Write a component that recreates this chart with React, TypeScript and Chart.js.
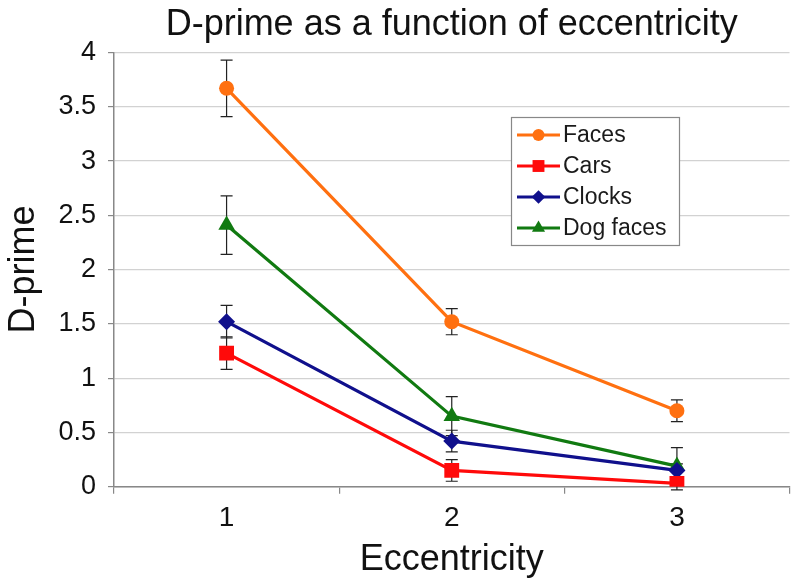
import React, { useEffect, useRef } from "react";
import { Chart, registerables } from "chart.js";

Chart.register(...registerables);

const categories = ["1", "2", "3"];
const seriesNames = ["Faces", "Cars", "Clocks", "Dog faces"];
const faces = [3.67, 1.52, 0.7];
const facesErr = [0.26, 0.12, 0.1];
const cars = [1.23, 0.15, 0.03];
const carsErr = [0.15, 0.1, 0.06];
const clocks = [1.52, 0.42, 0.15];
const clocksErr = [0.15, 0.1, 0.06];
const dogFaces = [2.41, 0.65, 0.19];
const dogFacesErr = [0.27, 0.18, 0.17];

const colors = ["#FF7010", "#FF0A0A", "#10108C", "#117A11"];
const styles = ["circle", "rect", "rectRot", "triangle"];
const radii = [7.5, 10.5, 8.5, 9.5];

const FONT = "'Liberation Sans', Arial, Helvetica, sans-serif";

function drawMarker(ctx: CanvasRenderingContext2D, style: string, x: number, y: number, r: number, color: string) {
  ctx.save();
  ctx.fillStyle = color;
  ctx.beginPath();
  if (style === "circle") {
    ctx.arc(x, y, r, 0, Math.PI * 2);
  } else if (style === "rect") {
    const s = r * Math.SQRT1_2;
    ctx.rect(x - s, y - s, 2 * s, 2 * s);
  } else if (style === "rectRot") {
    ctx.moveTo(x, y - r);
    ctx.lineTo(x + r, y);
    ctx.lineTo(x, y + r);
    ctx.lineTo(x - r, y);
    ctx.closePath();
  } else if (style === "triangle") {
    const a = -Math.PI / 2;
    for (let k = 0; k < 3; k++) {
      const ang = a + (k * 2 * Math.PI) / 3;
      const px = x + Math.cos(ang) * r;
      const py = y + Math.sin(ang) * r;
      if (k === 0) ctx.moveTo(px, py);
      else ctx.lineTo(px, py);
    }
    ctx.closePath();
  }
  ctx.fill();
  ctx.restore();
}

const errorBarPlugin = {
  id: "errorBars",
  beforeDatasetsDraw(chart: any) {
    const ctx = chart.ctx;
    const yScale = chart.scales.y;
    ctx.save();
    ctx.strokeStyle = "#222";
    ctx.lineWidth = 1.2;
    chart.data.datasets.forEach((ds: any, i: number) => {
      const meta = chart.getDatasetMeta(i);
      meta.data.forEach((pt: any, j: number) => {
        const v = ds.data[j];
        const e = ds.errors[j];
        const x = pt.x;
        const yTop = yScale.getPixelForValue(v + e);
        const yBot = yScale.getPixelForValue(v - e);
        ctx.beginPath();
        ctx.moveTo(x, yTop);
        ctx.lineTo(x, yBot);
        ctx.moveTo(x - 6, yTop);
        ctx.lineTo(x + 6, yTop);
        ctx.moveTo(x - 6, yBot);
        ctx.lineTo(x + 6, yBot);
        ctx.stroke();
      });
    });
    ctx.restore();
  },
};

const legendPlugin = {
  id: "boxLegend",
  afterDraw(chart: any) {
    const ctx = chart.ctx;
    const left = 511;
    const top = 117;
    const w = 168;
    const h = 128;
    ctx.save();
    ctx.fillStyle = "#fff";
    ctx.fillRect(left, top, w, h);
    ctx.strokeStyle = "#888";
    ctx.lineWidth = 1.2;
    ctx.strokeRect(left + 0.5, top + 0.5, w, h);
    const rows = [135, 166, 197, 228];
    chart.data.datasets.forEach((ds: any, i: number) => {
      const y = rows[i];
      ctx.strokeStyle = ds.borderColor;
      ctx.lineWidth = 3;
      ctx.beginPath();
      ctx.moveTo(517, y);
      ctx.lineTo(560, y);
      ctx.stroke();
      drawMarker(ctx, ds.pointStyle, 538.5, y, ds.pointRadius * 0.8, ds.borderColor);
      ctx.fillStyle = "#1a1a1a";
      ctx.font = `23px ${FONT}`;
      ctx.textBaseline = "middle";
      ctx.textAlign = "left";
      ctx.fillText(ds.label, 563, y + 1);
    });
    ctx.restore();
  },
};

export default function App() {
  const ref = useRef<HTMLCanvasElement>(null);

  useEffect(() => {
    document.body.style.margin = "0";
    Chart.defaults.font.family = FONT;
    const values = [faces, cars, clocks, dogFaces];
    const errs = [facesErr, carsErr, clocksErr, dogFacesErr];
    const datasets = seriesNames.map((name, i) => ({
      label: name,
      data: values[i],
      errors: errs[i],
      borderColor: colors[i],
      backgroundColor: colors[i],
      pointBackgroundColor: colors[i],
      pointBorderColor: colors[i],
      pointBorderWidth: 0,
      pointStyle: styles[i],
      pointRadius: radii[i],
      borderWidth: 3.2,
      tension: 0,
    }));
    const chart = new Chart(ref.current as HTMLCanvasElement, {
      type: "line",
      data: { labels: categories, datasets: datasets as any },
      options: {
        animation: false,
        responsive: false,
        devicePixelRatio: 1,
        layout: { padding: { left: 0, right: 8, top: 0, bottom: 0 } },
        plugins: {
          legend: { display: false },
          tooltip: { enabled: false },
          title: {
            display: true,
            fullSize: false,
            text: "D-prime as a function of eccentricity",
            color: "#111",
            font: { size: 36, weight: "normal", family: FONT },
            padding: { top: 3, bottom: 6.3 },
          },
        },
        scales: {
          x: {
            type: "category",
            offset: true,
            grid: {
              offset: true,
              drawOnChartArea: false,
              drawTicks: true,
              tickLength: 7,
              color: "#888",
              lineWidth: 1.2,
            },
            border: { color: "#888", width: 1.5 },
            ticks: { color: "#111", font: { size: 28 }, padding: 8 },
            title: {
              display: true,
              text: "Eccentricity",
              color: "#111",
              font: { size: 36 },
              padding: { top: 0, bottom: 6 },
            },
            afterFit: (s: any) => {
              s.height = 101.3;
            },
          },
          y: {
            min: 0,
            max: 4,
            ticks: {
              stepSize: 0.5,
              color: "#111",
              font: { size: 27 },
              padding: 12,
              callback: (v: any) => String(Number(v)),
            },
            grid: { color: "#d2d2d2", tickColor: "#888", tickLength: 6, lineWidth: 1.2 },
            border: { color: "#888", width: 1.5 },
            title: {
              display: true,
              text: "D-prime",
              color: "#111",
              font: { size: 36 },
              padding: { top: 2, bottom: 0 },
            },
            afterFit: (s: any) => {
              s.width = 114;
            },
          },
        },
      } as any,
      plugins: [errorBarPlugin, legendPlugin],
    });
    return () => chart.destroy();
  }, []);

  return (
    <div style={{ position: "absolute", left: 0, top: 0, width: 800, height: 588, background: "#fff" }}>
      <canvas ref={ref} width={800} height={588} />
    </div>
  );
}
